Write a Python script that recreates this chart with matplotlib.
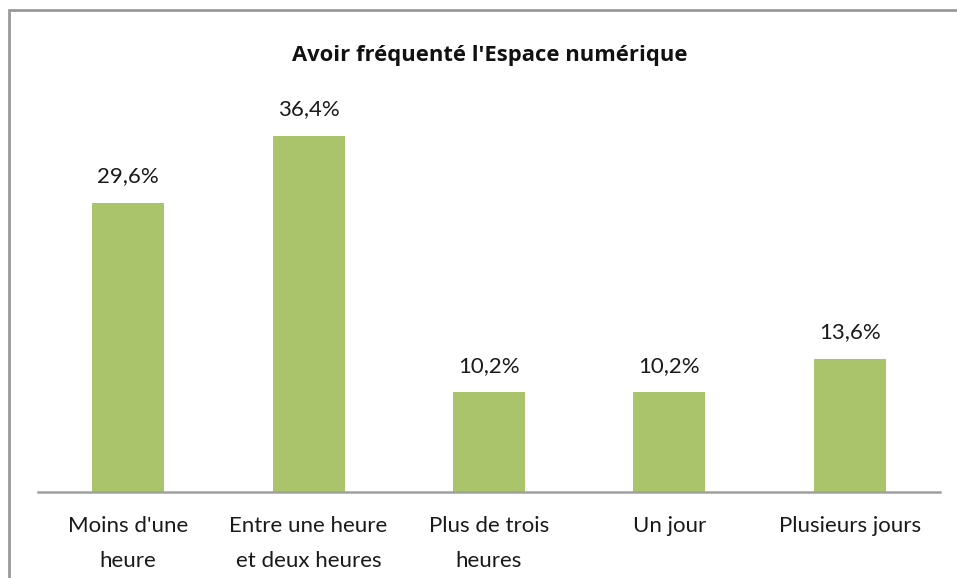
import matplotlib.pyplot as plt
from matplotlib.patches import Rectangle

categories = ["Moins d'une\nheure", "Entre une heure\net deux heures",
              "Plus de trois\nheures", "Un jour", "Plusieurs jours"]
values = [29.6, 36.4, 10.2, 10.2, 13.6]
title = "Avoir fréquenté l'Espace numérique"

plt.rcParams['font.family'] = ['Lato', 'DejaVu Sans']

fig = plt.figure(figsize=(9.57, 5.78), dpi=100)
ax = fig.add_axes([38 / 957, 86 / 578, 902 / 957, 391 / 578])

x = range(len(values))
ax.bar(x, values, width=0.4, color='#AAC46C')
for xi, v in zip(x, values):
    ax.annotate(f"{v:.1f}".replace('.', ',') + '%', (xi, v),
                xytext=(0, 12), textcoords='offset points',
                ha='center', va='bottom', fontsize=16, color='#1a1a1a')

ax.set_xlim(-0.5, len(values) - 0.5)
ax.set_ylim(0, 40)
ax.set_xticks(list(x))
ax.set_xticklabels(categories, fontsize=16, linespacing=1.95, color='#1a1a1a')
ax.tick_params(axis='x', length=0, pad=17)
ax.set_yticks([])
for side in ['left', 'right', 'top']:
    ax.spines[side].set_visible(False)
ax.spines['bottom'].set_color('#A0A0A0')
ax.spines['bottom'].set_linewidth(1.8)

fig.text(490 / 957, 1 - 56 / 578, title, ha='center', va='center',
         fontsize=15.8, fontweight='bold', color='#111111',
         family=['Open Sans', 'DejaVu Sans'])

# outer chart frame
fig.patches.append(Rectangle((8.5 / 957, -0.1), 1.2, (578 - 10.5) / 578 + 0.1,
                             transform=fig.transFigure, fill=False,
                             edgecolor='#999999', linewidth=2))

fig.savefig('out.png', dpi=100)
